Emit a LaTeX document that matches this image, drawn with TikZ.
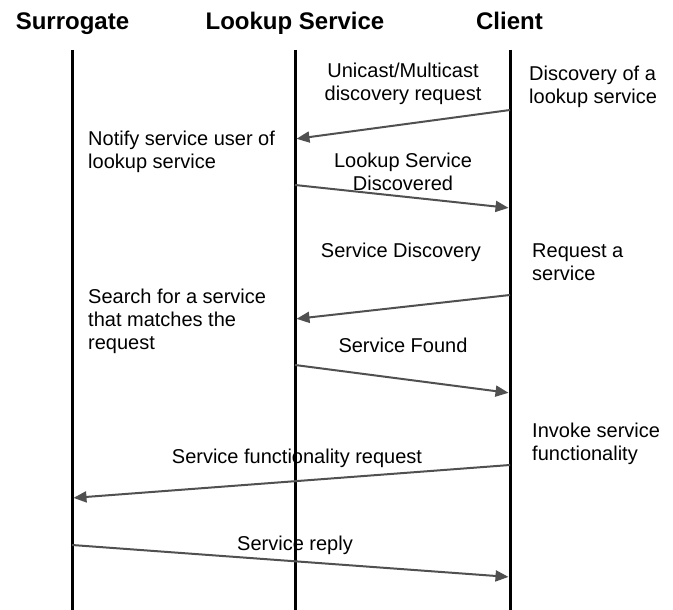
\documentclass[tikz,border=0pt]{standalone}
\usepackage{fontspec}
\setmainfont{Liberation Sans}
\usetikzlibrary{arrows.meta}
\definecolor{msggray}{HTML}{505050}
\newcommand{\headfont}{\fontsize{24}{28}\selectfont\bfseries}
\newcommand{\notefont}{\fontsize{20}{23}\selectfont}
\tikzset{
  head/.style={font=\headfont, anchor=base, inner sep=0pt},
  note/.style={font=\notefont, inner sep=0pt, align=left},
  cnote/.style={font=\notefont, inner sep=0pt, align=center},
  lifeline/.style={line width=3pt, black},
  msg/.style={line width=2pt, msggray, -{Triangle[length=13pt,width=11pt]}, shorten >=1.5pt},
}
\begin{document}
\begin{tikzpicture}[x=1pt, y=-1pt]
  \useasboundingbox (0,0) rectangle (673,610);

  % lifelines
  \coordinate (s-top) at (72,50);   \coordinate (s-bot) at (72,610);
  \coordinate (l-top) at (295,50);  \coordinate (l-bot) at (295,610);
  \coordinate (c-top) at (510,50);  \coordinate (c-bot) at (510,610);
  \draw[lifeline] (s-top) -- (s-bot);
  \draw[lifeline] (l-top) -- (l-bot);
  \draw[lifeline] (c-top) -- (c-bot);

  % headers
  \node[head] (hs) at (72.5,30) {Surrogate};
  \node[head] (hl) at (295,30) {Lookup Service};
  \node[head] (hc) at (509.5,30) {Client};

  % message end points
  \coordinate (m1a) at (510,110); \coordinate (m1b) at (295,139);
  \coordinate (m2a) at (295,185); \coordinate (m2b) at (510,208);
  \coordinate (m3a) at (510,295); \coordinate (m3b) at (295,319);
  \coordinate (m4a) at (295,365); \coordinate (m4b) at (510,393);
  \coordinate (m5a) at (510,465); \coordinate (m5b) at (72,498);
  \coordinate (m6a) at (72,545);  \coordinate (m6b) at (510,577);

  \draw[msg] (m1a) -- (m1b);
  \draw[msg] (m2a) -- (m2b);
  \draw[msg] (m3a) -- (m3b);
  \draw[msg] (m4a) -- (m4b);
  \draw[msg] (m5a) -- (m5b);
  \draw[msg] (m6a) -- (m6b);

  % message labels (base anchor sits on the last line)
  \node[cnote, anchor=base] (t1) at (403,101) {Unicast/Multicast\\discovery request};
  \node[cnote, anchor=base] (t2) at (403,190) {Lookup Service\\Discovered};
  \node[cnote, anchor=base] (t3) at (401,257) {Service Discovery};
  \node[cnote, anchor=base] (t4) at (403,352) {Service Found};
  \node[cnote, anchor=base] (t5) at (297,463) {Service functionality request};
  \node[cnote, anchor=base] (t6) at (295,550) {Service reply};

  % activity notes
  \node[note, anchor=base west] (n1) at (529,103) {Discovery of a\\lookup service};
  \node[note, anchor=base west] (n2) at (88,168) {Notify service user of\\lookup service};
  \node[note, anchor=base west] (n3) at (532,280) {Request a\\service};
  \node[note, anchor=base west] (n4) at (88,349) {Search for a service\\that matches the\\request};
  \node[note, anchor=base west] (n5) at (532,460) {Invoke service\\functionality};
\end{tikzpicture}
\end{document}
